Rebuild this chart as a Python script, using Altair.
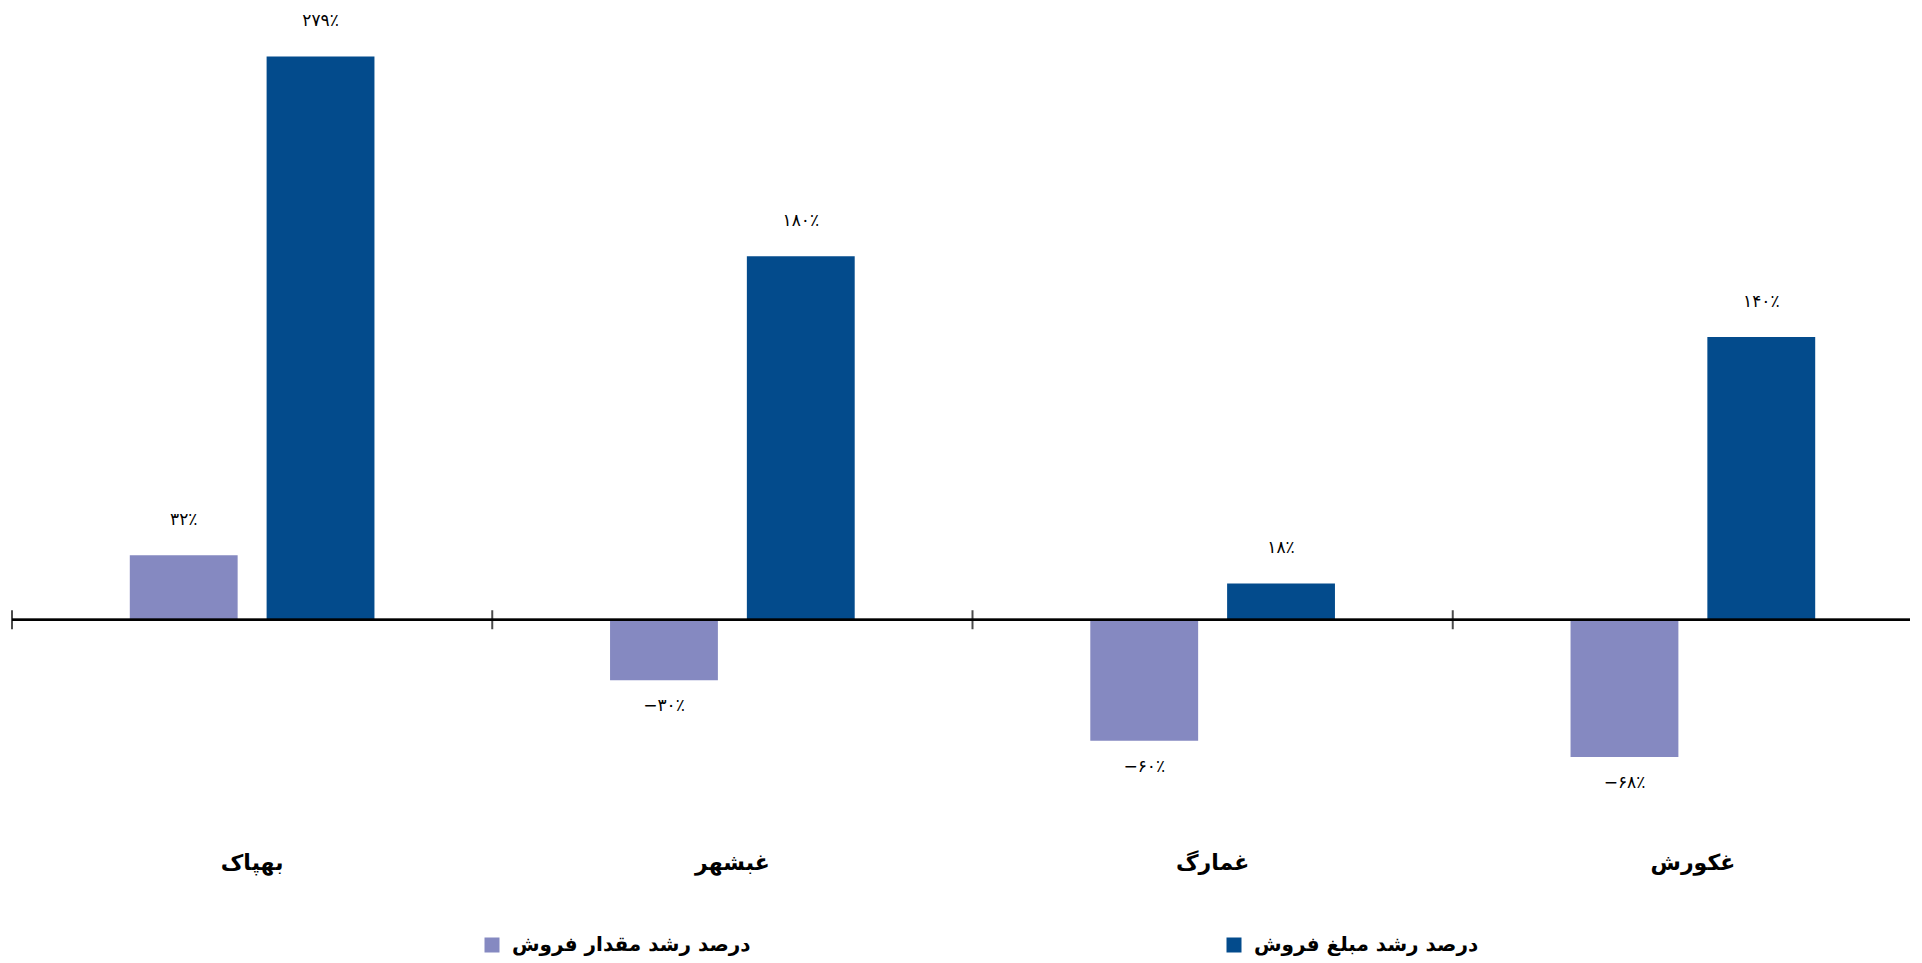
import altair as alt
import pandas as pd

companies = ["بهپاک", "غبشهر", "غمارگ", "غکورش"]
series_names = ["درصد رشد مقدار فروش", "درصد رشد مبلغ فروش"]
qty_growth = [32, -30, -60, -68]
amount_growth = [279, 180, 18, 140]
colors = ["#8589C1", "#034B8C"]

FA = str.maketrans("0123456789", "۰۱۲۳۴۵۶۷۸۹")


def fa_pct(v):
    s = str(abs(v)).translate(FA) + "٪"
    return ("−" + s) if v < 0 else s


rows = []
for i, c in enumerate(companies):
    rows.append({"company": c, "series": series_names[0], "value": qty_growth[i]})
    rows.append({"company": c, "series": series_names[1], "value": amount_growth[i]})
df = pd.DataFrame(rows)
df["label"] = df["value"].apply(fa_pct)

ticks_df = pd.DataFrame({"company": companies})

FONT = "DejaVu Sans"
W = 1894
H = 854
X_RANGE = [0, 1921]

x_scale = alt.Scale(range=X_RANGE, paddingInner=0, paddingOuter=0)
x_enc = alt.X(
    "company:N",
    sort=companies,
    scale=x_scale,
    axis=alt.Axis(
        title=None, domain=False, ticks=False, tickSize=0, labelAngle=0,
        labelFont=FONT, labelFontSize=22, labelFontWeight="bold",
        labelColor="#000000", labelPadding=0, labelBaseline="middle",
    ),
)
y_scale = alt.Scale(domain=[-120, 303], nice=False, zero=True)
xoff = alt.XOffset(
    "series:N", sort=series_names,
    scale=alt.Scale(paddingInner=0.2117, paddingOuter=0.861),
)

base = alt.Chart(df)

bars = base.mark_bar().encode(
    x=x_enc,
    xOffset=xoff,
    y=alt.Y("value:Q", scale=y_scale, axis=None),
    color=alt.Color(
        "series:N",
        scale=alt.Scale(domain=series_names, range=colors),
        legend=alt.Legend(
            title=None, orient="none", direction="horizontal",
            legendX=470, legendY=927, symbolType="square", symbolSize=225,
            symbolStrokeWidth=0, labelFont=FONT, labelFontSize=20,
            labelFontWeight="bold", labelColor="#000000", labelOffset=10,
            columnPadding=473, padding=0, labelLimit=400,
        ),
    ),
)

pos_text = base.transform_filter("datum.value >= 0").mark_text(
    font=FONT, fontSize=17, color="#000000", baseline="middle", dy=-35
).encode(x=x_enc, xOffset=xoff, y=alt.Y("value:Q", scale=y_scale), text="label:N")

neg_text = base.transform_filter("datum.value < 0").mark_text(
    font=FONT, fontSize=17, color="#000000", baseline="middle", dy=26
).encode(x=x_enc, xOffset=xoff, y=alt.Y("value:Q", scale=y_scale), text="label:N")

zero_line = alt.Chart(ticks_df).mark_rule(color="#000000", strokeWidth=2).encode(
    y=alt.datum(0, scale=y_scale), x=alt.value(0), x2=alt.value(W + 30)
)

tick_marks = alt.Chart(ticks_df).mark_tick(
    orient="vertical", size=19, thickness=2, color="#000000"
).encode(
    x=alt.X("company:N", sort=companies, bandPosition=0, scale=x_scale),
    y=alt.datum(0, scale=y_scale),
)

chart = alt.layer(bars, zero_line, tick_marks, pos_text, neg_text).properties(
    width=W, height=H,
    padding={"left": 4, "top": 0, "right": 4, "bottom": 96},
    autosize=alt.AutoSizeParams(type="none"),
    background="#ffffff",
).configure_view(stroke=None)

chart.save("out.html", embed_options={"renderer": "svg", "actions": False})
